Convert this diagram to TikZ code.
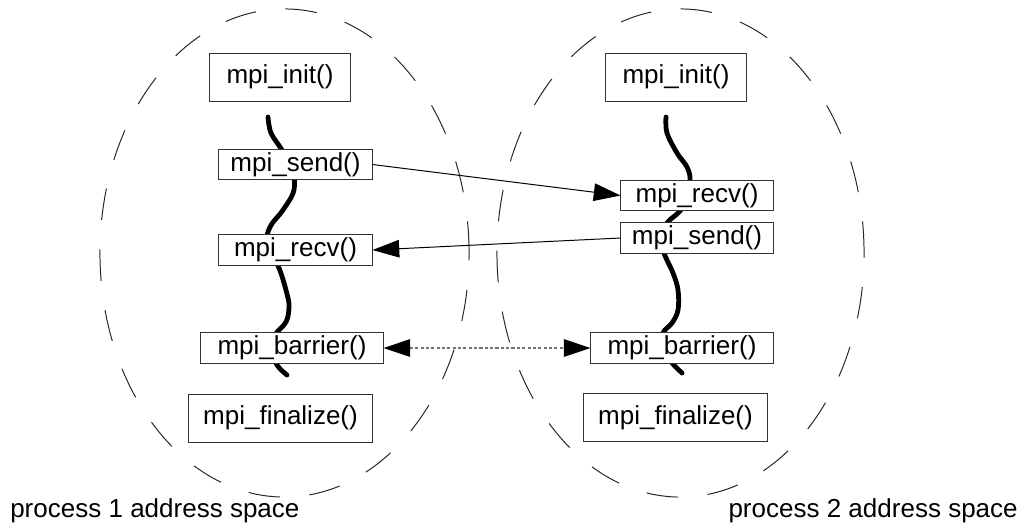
\documentclass[tikz,border=0pt]{standalone}
\usepackage{fontspec}
\setmainfont{Liberation Sans}
\usetikzlibrary{arrows.meta}
\begin{document}
\begin{tikzpicture}[x=0.025cm,y=-0.025cm,
  every node/.style={font=\fontsize{18.5}{22}\selectfont},
  fbox/.style={draw=black!80,line width=0.7pt,fill=white,inner sep=0pt,align=center},
  bigbox/.style={fbox,minimum height=1.2cm},
  smallbox/.style={fbox,minimum height=0.76cm},
  space/.style={draw=black!85,line width=0.7pt,dash pattern=on 22.5pt off 21pt},
  thread/.style={line width=3.4pt,line cap=round},
  msg/.style={line width=0.7pt,-{Triangle[length=19pt,width=12.5pt]}},
  sync/.style={line width=0.8pt,draw=black!55,dash pattern=on 2.2pt off 1.6pt,
     {Triangle[length=19pt,width=12.5pt,color=black]}-{Triangle[length=19pt,width=12.5pt,color=black]}},
  lbl/.style={inner sep=0pt}]
\useasboundingbox (0,0) rectangle (1018,528);
% address spaces
\draw[space] (284.5,253) ellipse [x radius=4.6125cm, y radius=6.1cm];
\draw[space] (680.5,253) ellipse [x radius=4.5875cm, y radius=6.1cm];
% threads
\draw[thread] plot[smooth,tension=0.6] coordinates {(268,117) (271,133) (282,150) (292,168) (294,190) (283,210) (270,227) (267,245) (279,268) (287,294) (289,307) (286,322) (275,335) (272,350) (277,365) (287,375)};
\draw[thread] plot[smooth,tension=0.6] coordinates {(666,117) (667,133) (677,153) (687,167) (690,180) (686,198) (680,211) (667,223) (662,238) (664,253) (673,273) (678,290) (678,310) (672,323) (663,333) (662,350) (672,363) (682,373)};
% process 1
\node[bigbox,minimum width=3.5cm] (i1) at (280,77) {mpi\_init()};
\node[smallbox,minimum width=3.825cm] (s1) at (295.5,164.5) {mpi\_send()};
\node[smallbox,minimum width=3.825cm] (r1) at (295.5,250) {mpi\_recv()};
\node[smallbox,minimum width=4.55cm] (b1) at (292,348) {mpi\_barrier()};
\node[bigbox,minimum width=4.575cm] (f1) at (280.5,418) {mpi\_finalize()};
% process 2
\node[bigbox,minimum width=3.5cm] (i2) at (676,77) {mpi\_init()};
\node[smallbox,minimum width=3.8cm] (r2) at (697,195.5) {mpi\_recv()};
\node[smallbox,minimum width=3.8cm] (s2) at (697,238) {mpi\_send()};
\node[smallbox,minimum width=4.55cm] (b2) at (682,348) {mpi\_barrier()};
\node[bigbox,minimum width=4.575cm] (f2) at (675.5,417.5) {mpi\_finalize()};
% messages
\draw[msg] (s1.east) -- (r2.west);
\draw[msg] (s2.west) -- (r1.east);
\draw[sync] (b1.east) -- (b2.west);
% labels
\node[lbl,anchor=base west] (l1) at (10,517) {process 1 address space};
\node[lbl,anchor=base east] (l2) at (1018,517) {process 2 address space};
\end{tikzpicture}
\end{document}
